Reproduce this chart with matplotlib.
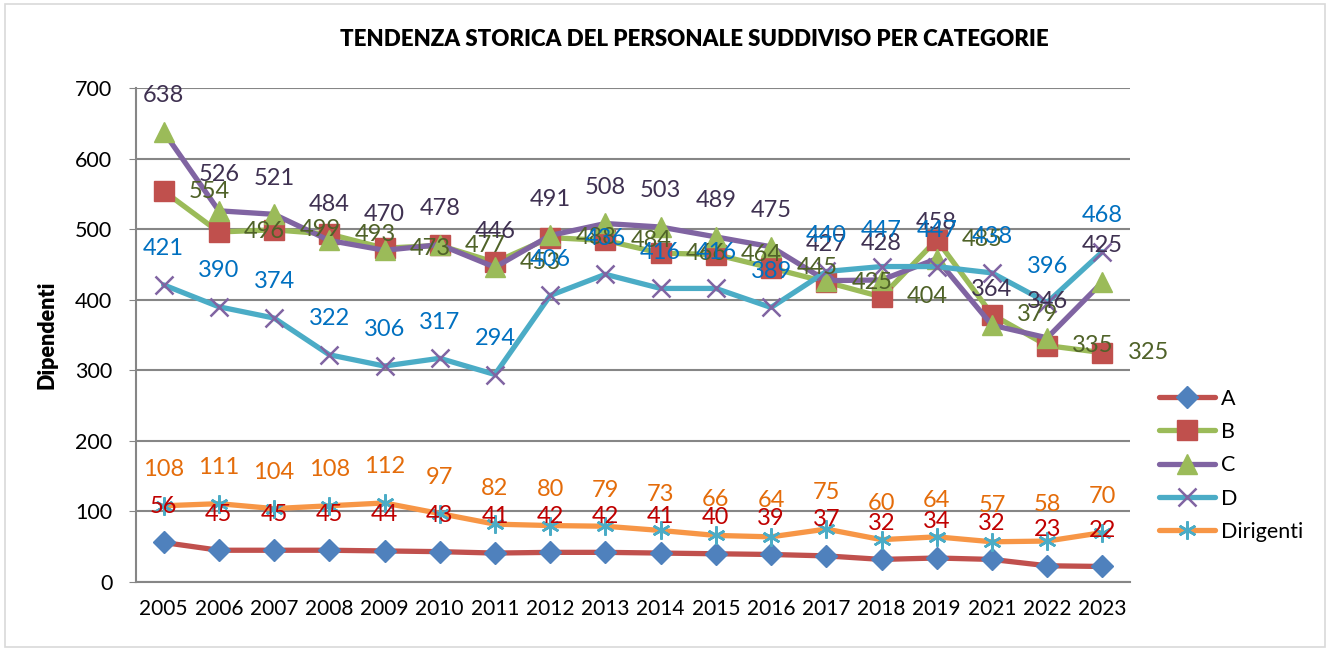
import matplotlib
matplotlib.use("Agg")
import matplotlib.pyplot as plt
from matplotlib.patches import Rectangle

years = ["2005", "2006", "2007", "2008", "2009", "2010", "2011", "2012", "2013",
         "2014", "2015", "2016", "2017", "2018", "2019", "2021", "2022", "2023"]
A = [56, 45, 45, 45, 44, 43, 41, 42, 42, 41, 40, 39, 37, 32, 34, 32, 23, 22]
B = [554, 496, 499, 493, 473, 477, 453, 488, 484, 466, 464, 445, 425, 404, 485, 379, 335, 325]
C = [638, 526, 521, 484, 470, 478, 446, 491, 508, 503, 489, 475, 427, 428, 458, 364, 346, 425]
D = [421, 390, 374, 322, 306, 317, 294, 406, 436, 416, 416, 389, 440, 447, 447, 438, 396, 468]
Dirigenti = [108, 111, 104, 108, 112, 97, 82, 80, 79, 73, 66, 64, 75, 60, 64, 57, 58, 70]

plt.rcParams['font.family'] = ['Lato', 'DejaVu Sans']

fig = plt.figure(figsize=(13.32, 6.51), dpi=100)
fig.patches.append(Rectangle((5/1332, 4/651), 1320/1332, 643/651, transform=fig.transFigure,
                             fill=False, edgecolor='#D9D9D9', linewidth=1.2))
ax = fig.add_axes([136/1332, 1-582/651, (1130-136)/1332, (582-88)/651])

x = list(range(len(years)))
series = [
    ("A", A, '#C0504D', 'D', '#4F81BD', 11, '#C00000'),
    ("B", B, '#9BBB59', 's', '#C0504D', 14, '#4F6228'),
    ("C", C, '#8064A2', '^', '#9BBB59', 15, '#3F3151'),
    ("D", D, '#4BACC6', 'x', '#8064A2', 13, '#0070C0'),
    ("Dirigenti", Dirigenti, '#F79646', '*', '#4BACC6', 13, '#E46C0A'),
]

for i, (name, vals, lc, mk, mc, ms, tc) in enumerate(series):
    kw = dict(color=lc, linewidth=3.8, marker=mk, markersize=ms, label=name, zorder=3 + i,
              solid_capstyle='round', solid_joinstyle='round')
    if mk in ('x',):
        kw.update(markeredgecolor=mc, markeredgewidth=1.8)
    elif mk == '*':
        kw.update(marker=(6, 2, 0), markeredgecolor=mc, markeredgewidth=1.8)
    else:
        kw.update(markerfacecolor=mc, markeredgecolor=mc)
    ax.plot(x, vals, **kw)

for i, (name, vals, lc, mk, mc, ms, tc) in enumerate(series):
    for xi, v in zip(x, vals):
        if name == "B":
            ax.annotate(str(v), (xi, v), xytext=(33, 0), textcoords='offset points',
                        ha='center', va='center', fontsize=17, color=tc, zorder=20)
        else:
            ax.annotate(str(v), (xi, v), xytext=(0, 26), textcoords='offset points',
                        ha='center', va='center', fontsize=17, color=tc, zorder=20)

ax.set_xlim(-0.5, len(years) - 0.5)
ax.set_ylim(0, 700)
ax.set_yticks(range(0, 701, 100))
ax.set_xticks(x)
ax.set_xticklabels(years)
ax.tick_params(axis='x', length=0, labelsize=15, pad=12)
ax.tick_params(axis='y', length=5, color='#868686', labelsize=15.5, pad=12)
ax.grid(axis='y', color='#868686', linewidth=1.5)
ax.set_axisbelow(True)
for s in ['top', 'right']:
    ax.spines[s].set_visible(False)
for s in ['left', 'bottom']:
    ax.spines[s].set_color('#868686')
    ax.spines[s].set_linewidth(1.5)

fig.text(47/1332, 1 - 335/651, "Dipendenti", rotation=90, ha='center', va='center',
         fontsize=15.5, fontweight='heavy')
fig.text(694/1332, 1 - 40/651, "TENDENZA STORICA DEL PERSONALE SUDDIVISO PER CATEGORIE",
         ha='center', va='center', fontsize=16, fontweight='heavy')

fig.legend(loc='upper left', bbox_to_anchor=(1150/1332, 1 - 380/651), frameon=False,
           fontsize=15.5, handlelength=2.6, labelspacing=0.62, handletextpad=0.3,
           borderaxespad=0)

fig.savefig("out.png", dpi=100)
